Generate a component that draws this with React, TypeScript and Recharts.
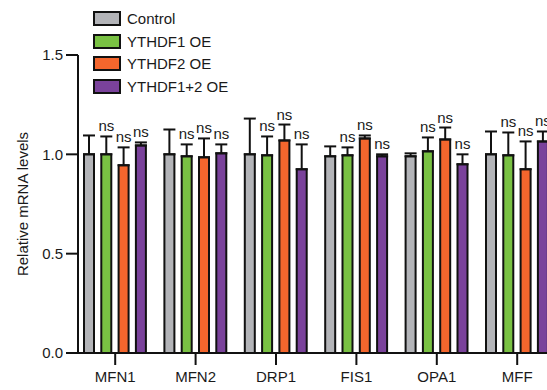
import React from 'react';
import { BarChart, Bar, XAxis, YAxis, ErrorBar, LabelList, Legend } from 'recharts';

const categories = ['MFN1', 'MFN2', 'DRP1', 'FIS1', 'OPA1', 'MFF'];
const control = [1.0, 1.0, 1.0, 0.99, 0.99, 1.0];
const controlErr = [0.095, 0.125, 0.18, 0.05, 0.015, 0.115];
const ythdf1 = [1.0, 0.99, 0.995, 0.995, 1.015, 0.995];
const ythdf1Err = [0.09, 0.06, 0.095, 0.04, 0.07, 0.115];
const ythdf2 = [0.945, 0.985, 1.07, 1.08, 1.075, 0.925];
const ythdf2Err = [0.09, 0.095, 0.08, 0.015, 0.06, 0.14];
const ythdf12 = [1.045, 1.005, 0.925, 0.99, 0.95, 1.065];
const ythdf12Err = [0.015, 0.045, 0.125, 0.01, 0.05, 0.05];
const yTicks = [0, 0.5, 1.0, 1.5];

const seriesNames = ['Control', 'YTHDF1 OE', 'YTHDF2 OE', 'YTHDF1+2 OE'];
const seriesKeys = ['c', 'f1', 'f2', 'f12'];
const seriesColors = ['#B3B4B8', '#79C143', '#F4662D', '#7A429B'];
const seriesValues = [control, ythdf1, ythdf2, ythdf12];
const seriesErrors = [controlErr, ythdf1Err, ythdf2Err, ythdf12Err];
const showNs = [false, true, true, true];

const data = categories.map((name, i) => {
  const row: Record<string, any> = { name };
  seriesKeys.forEach((k, s) => {
    row[k] = seriesValues[s][i];
    row[k + 'Err'] = [0, seriesErrors[s][i]];
  });
  return row;
});

const FONT = '"Liberation Sans", Arial, Helvetica, sans-serif';
const TEXT = '#1a1a1a';

const makeNsLabel = (errs: number[]) => (props: any) => {
  const { x, y, width, height, value, index } = props;
  if (value == null || !height) return null;
  const pxPerUnit = height / value;
  const top = y - errs[index] * pxPerUnit;
  return (
    <text
      x={x + width / 2}
      y={top - 5}
      textAnchor="middle"
      fontSize={15}
      fontFamily={FONT}
      fill={TEXT}
    >
      ns
    </text>
  );
};

const renderLegend = () => (
  <div style={{ fontFamily: FONT, fontSize: 15, color: TEXT }}>
    {seriesNames.map((n, i) => (
      <div key={n} style={{ display: 'flex', alignItems: 'center', height: 22.7 }}>
        <div
          style={{
            width: 28,
            height: 15,
            boxSizing: 'border-box',
            border: '2px solid #111',
            background: seriesColors[i],
            marginRight: 6,
          }}
        />
        <span>{n}</span>
      </div>
    ))}
  </div>
);

export default function App() {
  const chartW = 600;
  return (
    <div
      style={{
        position: 'absolute',
        left: 0,
        top: 0,
        width: 547,
        height: 390,
        overflow: 'hidden',
        background: '#fff',
      }}
    >
      <BarChart
        width={chartW}
        height={390}
        data={data}
        margin={{ top: 55, right: chartW - 557.4, left: 0, bottom: 7 }}
        barSize={10}
        barGap={7.3}
      >
        <XAxis
          dataKey="name"
          height={30}
          padding={{ left: -3, right: 0 }}
          tickSize={12}
          tickMargin={6}
          axisLine={{ stroke: '#111', strokeWidth: 2 }}
          tickLine={{ stroke: '#111', strokeWidth: 2 }}
          tick={{ fontSize: 15, fontFamily: FONT, fill: TEXT }}
          interval={0}
        />
        <YAxis
          width={78}
          domain={[0, 1.5]}
          ticks={yTicks}
          tickFormatter={(v: number) => v.toFixed(1)}
          tickSize={12}
          tickMargin={3}
          axisLine={{ stroke: '#111', strokeWidth: 2 }}
          tickLine={{ stroke: '#111', strokeWidth: 2 }}
          tick={{ fontSize: 15, fontFamily: FONT, fill: TEXT }}
          label={{
            value: 'Relative mRNA levels',
            angle: -90,
            position: 'insideLeft',
            offset: 23,
            style: { textAnchor: 'middle', fontSize: 15, fontFamily: FONT, fill: TEXT },
          }}
        />
        <Legend
          layout="vertical"
          align="center"
          verticalAlign="middle"
          content={renderLegend}
          wrapperStyle={{ position: 'absolute', left: 93, top: 7, width: 200, height: 92 }}
        />
        {seriesKeys.map((k, s) => (
          <Bar
            key={k}
            dataKey={k}
            name={seriesNames[s]}
            fill={seriesColors[s]}
            stroke="#111"
            strokeWidth={2}
            isAnimationActive={false}
          >
            <ErrorBar dataKey={k + 'Err'} width={6} stroke="#111" strokeWidth={2} direction="y" />
            {showNs[s] && <LabelList dataKey={k} content={makeNsLabel(seriesErrors[s])} />}
          </Bar>
        ))}
      </BarChart>
    </div>
  );
}
